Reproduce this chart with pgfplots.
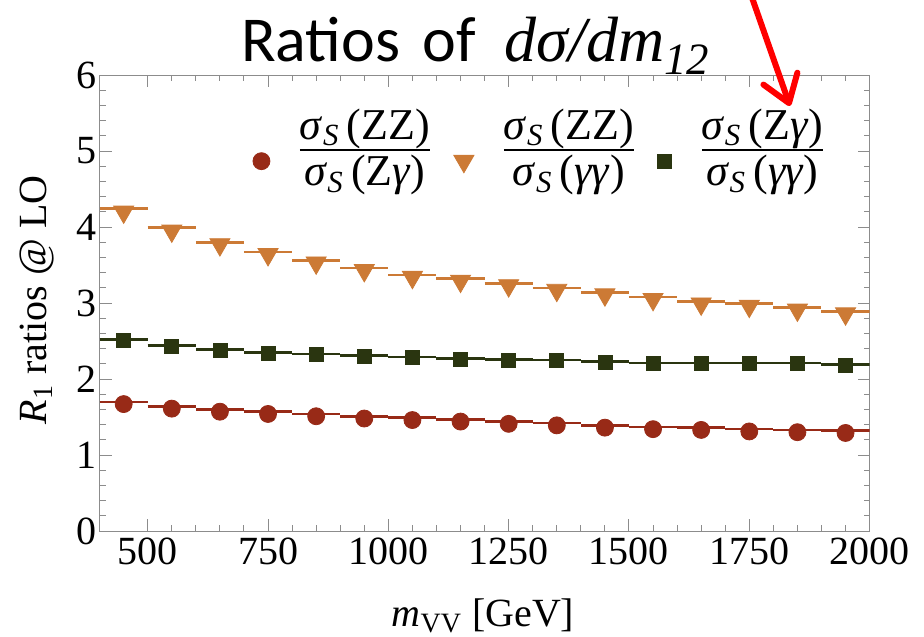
\documentclass[border=0pt]{standalone}
\usepackage{pgfplots}
\pgfplotsset{compat=1.18}
\usepackage{pgfplotstable}
\usepackage{fontspec}
\setmainfont{Liberation Serif}
\newfontfamily\calibri{Carlito}
\newfontfamily\timesf{Liberation Serif}
\usetikzlibrary{arrows.meta}

\definecolor{cRed}{HTML}{982A17}
\definecolor{cOrange}{HTML}{CC7A35}
\definecolor{cGreen}{HTML}{2A3510}
\definecolor{frame}{HTML}{8C8C8C}

% 1 px of the reference = 0.5pt
\def\px{0.5pt}
\newcommand{\sig}{\textit{σ}\textsubscript{\textit{S}}\,}
% stacked fraction for the legend
\setlength{\arrayrulewidth}{1pt}
\newcommand{\fr}[2]{{\renewcommand{\arraystretch}{0}%
  \begin{tabular}{@{}c@{}}\rule[-3pt]{0pt}{16pt}#1\\\hline\rule{0pt}{17.5pt}#2\end{tabular}}}

% step lines (bin left edge, value)
\pgfplotstableread{
x    zzzg  zzgg  zggg
400  1.70  4.24  2.52
500  1.64  3.99  2.44
600  1.60  3.80  2.39
700  1.57  3.67  2.35
800  1.54  3.56  2.33
900  1.51  3.46  2.31
1000 1.49  3.37  2.29
1100 1.47  3.32  2.27
1200 1.44  3.26  2.26
1300 1.42  3.20  2.25
1400 1.39  3.14  2.23
1500 1.37  3.08  2.21
1600 1.36  3.02  2.21
1700 1.34  2.99  2.21
1800 1.33  2.94  2.21
1900 1.32  2.89  2.19
2000 1.32  2.89  2.19
}\steps

% points at bin centres
\pgfplotstableread{
x    zzzg  zzgg  zggg
450  1.67  4.20  2.51
550  1.61  3.95  2.43
650  1.57  3.77  2.38
750  1.54  3.64  2.34
850  1.51  3.53  2.32
950  1.48  3.43  2.30
1050 1.46  3.34  2.28
1150 1.44  3.29  2.26
1250 1.41  3.23  2.25
1350 1.39  3.17  2.24
1450 1.36  3.11  2.22
1550 1.34  3.05  2.20
1650 1.33  2.99  2.20
1750 1.31  2.96  2.20
1850 1.30  2.91  2.20
1950 1.29  2.86  2.18
}\points

\begin{document}
\begin{tikzpicture}
\path[use as bounding box] (-99.6*\px,-105*\px) rectangle (824.4*\px,531*\px);
\begin{axis}[
    at={(0,0)}, anchor=south west,
    scale only axis,
    width=385pt, height=228pt,
    xmin=400, xmax=2000, ymin=0, ymax=6,
    xtick={500,750,...,2000}, ytick={0,1,...,6},
    minor x tick num=4, minor y tick num=4,
    tick align=inside,
    major tick length=6pt, minor tick length=3pt,
    axis line style={frame, line width=0.5pt},
    tick style={frame, line width=0.5pt},
    tick label style={font=\fontsize{20}{24}\selectfont, black},
    yticklabel style={xshift=2pt},
    /pgf/number format/assume math mode=true,
    /pgf/number format/1000 sep={},
    label style={font=\fontsize{20}{24}\selectfont},
    xlabel={\textit{m}\textsubscript{VV} [GeV]},
    ylabel={\textit{R}\textsubscript{1} ratios @ LO},
    xlabel style={at={(axis description cs:0.498,-0.186)}, anchor=center},
    ylabel style={at={(axis description cs:-0.0813,0.507)}, anchor=center},
    legend columns=3,
    legend image code/.code={\draw[#1] plot coordinates {(0pt,-12pt)};},
    legend style={at={(0.572,0.86)}, anchor=center, draw=none, fill=none,
        font=\fontsize{22}{26}\selectfont,
        /tikz/every odd column/.append style={column sep=13pt},
        /tikz/every even column/.append style={column sep=10pt}},
]
\addplot[jump mark left, cRed, line width=1.3pt, forget plot] table[x=x, y=zzzg] {\steps};
\addplot[jump mark left, cOrange, line width=1.3pt, forget plot] table[x=x, y=zzgg] {\steps};
\addplot[jump mark left, cGreen, line width=1.3pt, forget plot] table[x=x, y=zggg] {\steps};

\addplot[only marks, mark=*, mark size=4.25pt, color=cRed]
    table[x=x, y=zzzg] {\points};
\addlegendentry{\fr{\sig(ZZ)}{\sig(Z\textit{γ})}}
\addplot[only marks, mark=triangle*, mark size=5.8pt, mark options={rotate=180}, color=cOrange]
    table[x=x, y=zzgg] {\points};
\addlegendentry{\fr{\sig(ZZ)}{\sig(\textit{γγ})}}
\addplot[only marks, mark=square*, mark size=3.5pt, color=cGreen]
    table[x=x, y=zggg] {\points};
\addlegendentry{\fr{\sig(Z\textit{γ})}{\sig(\textit{γγ})}}
\end{axis}

\node[anchor=base, font=\calibri\fontsize{32}{38}\selectfont] at (376*\px, 469*\px)
    {Ratios\hspace{0.35em}of\hspace{0.45em}{\timesf\itshape dσ/dm\textsubscript{12}}};

\draw[red, line width=3pt, line cap=round,
    -{Straight Barb[length=13pt, width=18pt, round]}]
    (650.4*\px, 539*\px) -- (690.4*\px, 425*\px);
\end{tikzpicture}
\end{document}
